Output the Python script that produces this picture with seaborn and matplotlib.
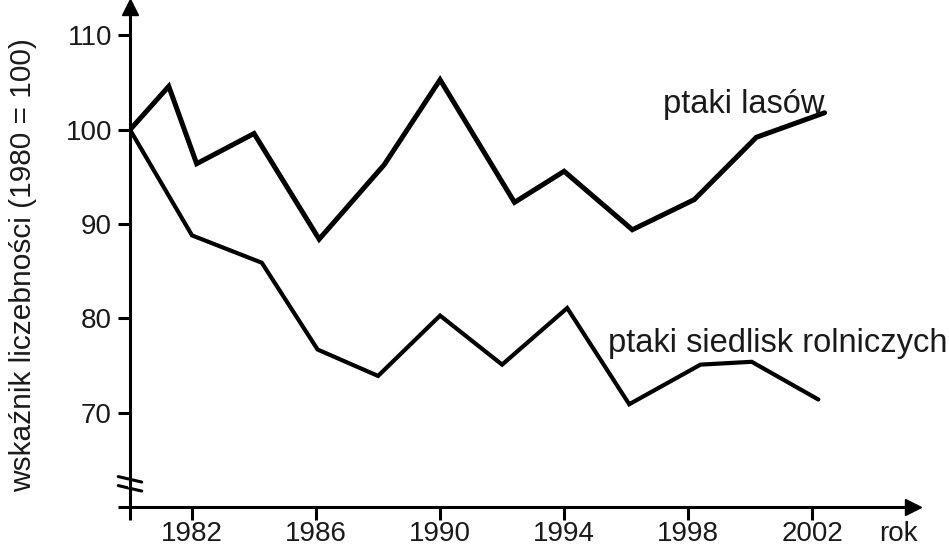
import pandas as pd
import seaborn as sns
import matplotlib.pyplot as plt

# -------------------------------------------------
# 1. Data (index 1980 = 100)
# -------------------------------------------------
forest_years = [1980, 1981.25, 1982.15, 1984.0, 1986.1, 1988.2, 1990.0,
                1992.4, 1994.0, 1996.2, 1998.2, 2000.2, 2002.4]
forest_index = [100, 104.6, 96.4, 99.6, 88.4, 96.3, 105.3,
                92.3, 95.6, 89.4, 92.6, 99.2, 101.8]

farm_years = [1980, 1982.0, 1984.25, 1986.05, 1988.0, 1990.0,
              1992.0, 1994.1, 1996.1, 1998.4, 2000.05, 2002.2]
farm_index = [100, 88.8, 85.9, 76.7, 73.9, 80.3,
              75.1, 81.1, 70.9, 75.1, 75.4, 71.4]

x_ticks = [1980, 1982, 1986, 1990, 1994, 1998, 2002]
x_tick_labels = ["", "1982", "1986", "1990", "1994", "1998", "2002"]
y_ticks = [60, 70, 80, 90, 100, 110]
y_tick_labels = ["", "70", "80", "90", "100", "110"]

forest = pd.DataFrame({"rok": forest_years, "indeks": forest_index})
farm = pd.DataFrame({"rok": farm_years, "indeks": farm_index})

# -------------------------------------------------
# 2. Style
# -------------------------------------------------
sns.set_style("ticks")
plt.rcParams["font.family"] = ["Liberation Sans", "DejaVu Sans"]
text_col = "#1a1a1a"

fig = plt.figure(figsize=(9.49, 5.47), dpi=100)
ax = fig.add_axes([0.137, 0.073, 0.825, 0.914])

sns.lineplot(data=forest, x="rok", y="indeks", ax=ax, color="black",
             linewidth=3.6, sort=False, solid_joinstyle="miter")
sns.lineplot(data=farm, x="rok", y="indeks", ax=ax, color="black",
             linewidth=3.0, sort=False, solid_joinstyle="miter")

ax.set_xlim(1980, 2005.25)
ax.set_ylim(60, 113)
ax.set_xticks(x_ticks)
ax.set_xticklabels(x_tick_labels)
ax.set_yticks(y_ticks)
ax.set_yticklabels(y_tick_labels)
ax.tick_params(axis="both", direction="out", length=9, width=2.2,
               labelsize=20, colors="black", labelcolor=text_col)
ax.tick_params(axis="x", pad=1)
ax.tick_params(axis="y", pad=4)
ax.set_xlabel("")
ax.set_ylabel("")

sns.despine(ax=ax)
for side in ["left", "bottom"]:
    ax.spines[side].set_linewidth(2.2)
    ax.spines[side].set_color("black")

# arrow heads at the ends of the axes
ax.plot(1, 0, ">", color="black", markersize=11, transform=ax.transAxes,
        clip_on=False)
ax.plot(0, 1, "^", color="black", markersize=11, transform=ax.transAxes,
        clip_on=False)

# axis break marks on the y axis
for dy in (0.0, 0.018):
    ax.plot([-0.015, 0.015], [0.061 - dy, 0.050 - dy], color="black",
            linewidth=2.2, transform=ax.transAxes, clip_on=False)
ax.plot([0, 0], [0.043, 0.050], color="white", linewidth=3,
        transform=ax.transAxes, clip_on=False)

# -------------------------------------------------
# 3. Labels
# -------------------------------------------------
ax.text(1997.2, 101.8, "ptaki lasów", fontsize=23.5, color=text_col,
        ha="left", va="baseline")
ax.text(1995.4, 76.4, "ptaki siedlisk rolniczych", fontsize=23.5,
        color=text_col, ha="left", va="baseline", clip_on=False)
fig.text(0.024, 0.515, "wskaźnik liczebności (1980 = 100)", fontsize=21.5,
         color=text_col, rotation=90, ha="center", va="center")
fig.text(0.947, 0.024, "rok", fontsize=20, color=text_col,
         ha="center", va="center")

plt.savefig("out.png", dpi=100)
